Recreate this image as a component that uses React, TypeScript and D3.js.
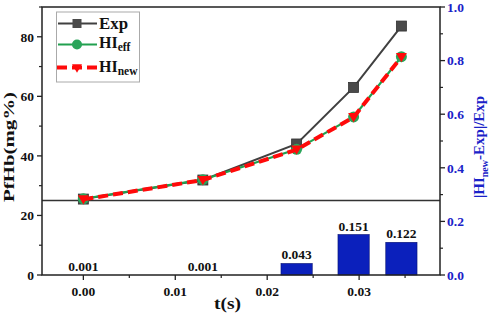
import React from "react";
import * as d3 from "d3";

const times = [0, 0.013, 0.0232, 0.0294, 0.0346];
const expValues = [25.5, 31.9, 44.0, 63.0, 83.6];
const hiEffValues = [25.6, 32.0, 42.2, 53.1, 73.3];
const hiNewValues = [25.4, 31.9, 42.1, 53.0, 73.2];
const relErrors = [0.001, 0.001, 0.043, 0.151, 0.122];
const xTicks = [0, 0.01, 0.02, 0.03];
const xMinor = [0.005, 0.015, 0.025, 0.035];
const leftTicks = [0, 20, 40, 60, 80];
const leftMinor = [10, 30, 50, 70, 90];
const rightTicks = [0, 0.2, 0.4, 0.6, 0.8, 1.0];
const rightMinor = [0.1, 0.3, 0.5, 0.7, 0.9];
const baselineValue = 25;
const barWidthT = 0.0034;

const W = 491, H = 315;
const L = 42, R = 440, T = 7, B = 275;
const FONT = "'Liberation Serif', 'Times New Roman', serif";
const BLUE = "#1a22c8";
const TICK_FS = 13.5;

export default function App() {
  const x = d3.scaleLinear().domain([-0.0045, 0.0388]).range([L, R]);
  const yL = d3.scaleLinear().domain([0, 90]).range([B, T]);
  const yR = d3.scaleLinear().domain([0, 1]).range([B, T]);

  const line = (vals: number[]) =>
    d3.line<number>().x((_, i) => x(times[i])).y((v) => yL(v))(vals) || "";

  const tri = (cx: number, cy: number, s: number) =>
    `M${cx - s},${cy - s * 0.75}L${cx + s},${cy - s * 0.75}L${cx},${cy + s * 0.95}Z`;

  return (
    <svg width={W} height={H} style={{ position: "absolute", left: 0, top: 0, background: "#fff" }} fontFamily={FONT}>
      <rect x={0} y={0} width={W} height={H} fill="#fff" />
      {/* bars */}
      {relErrors.map((v, i) => {
        const bw = x(barWidthT) - x(0);
        const y0 = yR(v);
        return (
          <g key={"b" + i}>
            {v > 0.005 && (
              <rect x={x(times[i]) - bw / 2} y={y0} width={bw} height={B - y0} fill="#0b20bc" stroke="#061070" strokeWidth={0.6} />
            )}
            <text x={x(times[i])} y={y0 - 4} textAnchor="middle" fontSize={13.5} fontWeight="bold" fill="#111">
              {v.toFixed(3)}
            </text>
          </g>
        );
      })}
      {/* baseline */}
      <line x1={L} x2={R} y1={yL(baselineValue)} y2={yL(baselineValue)} stroke="#333" strokeWidth={1.5} />
      {/* lines */}
      <path d={line(expValues)} fill="none" stroke="#404040" strokeWidth={2} />
      <path d={line(hiEffValues)} fill="none" stroke="#21a04e" strokeWidth={2.2} />
      {expValues.map((v, i) => (
        <rect key={"e" + i} x={x(times[i]) - 5} y={yL(v) - 5} width={10} height={10} fill="#4a4a4a" stroke="#333" strokeWidth={0.8} />
      ))}
      {hiEffValues.map((v, i) => (
        <circle key={"h" + i} cx={x(times[i])} cy={yL(v)} r={5.5} fill="#2aa55a" />
      ))}
      <path d={line(hiNewValues)} fill="none" stroke="#ff0a0a" strokeWidth={4} strokeDasharray="10,5" />
      {hiNewValues.map((v, i) => (
        <path key={"n" + i} d={tri(x(times[i]), yL(v), 5.5)} fill="#ff0a0a" />
      ))}
      {/* frame */}
      <rect x={L} y={T} width={R - L} height={B - T} fill="none" stroke="#222" strokeWidth={1.5} />
      {/* x axis */}
      {xTicks.map((t) => (
        <g key={"xt" + t}>
          <line x1={x(t)} x2={x(t)} y1={B} y2={B + 5} stroke="#222" strokeWidth={1.3} />
          <text x={x(t)} y={B + 21} textAnchor="middle" fontSize={TICK_FS} fontWeight="bold" fill="#111">
            {t.toFixed(2)}
          </text>
        </g>
      ))}
      {xMinor.map((t) => (
        <line key={"xm" + t} x1={x(t)} x2={x(t)} y1={B} y2={B + 3} stroke="#222" strokeWidth={1.2} />
      ))}
      <text x={227.5} y={309} textAnchor="middle" fontSize={17} fontWeight="bold" fill="#111" textLength={27} lengthAdjust="spacingAndGlyphs">t(s)</text>
      {/* left axis */}
      {leftTicks.map((t) => (
        <g key={"lt" + t}>
          <line x1={L - 5} x2={L} y1={yL(t)} y2={yL(t)} stroke="#222" strokeWidth={1.3} />
          <text x={L - 8} y={yL(t) + 4.8} textAnchor="end" fontSize={TICK_FS} fontWeight="bold" fill="#111">
            {t}
          </text>
        </g>
      ))}
      {leftMinor.map((t) => (
        <line key={"lm" + t} x1={L - 3} x2={L} y1={yL(t)} y2={yL(t)} stroke="#222" strokeWidth={1.2} />
      ))}
      <text transform={`translate(14,147) rotate(-90)`} textAnchor="middle" fontSize={15.5} fontWeight="bold" fill="#111" textLength={110} lengthAdjust="spacingAndGlyphs">
        PfHb(mg%)
      </text>
      {/* right axis */}
      {rightTicks.map((t) => (
        <g key={"rt" + t}>
          <line x1={R} x2={R + 5} y1={yR(t)} y2={yR(t)} stroke="#222" strokeWidth={1.3} />
          <text x={R + 7} y={yR(t) + 4.8} textAnchor="start" fontSize={TICK_FS} fontWeight="bold" fill={BLUE}>
            {t.toFixed(1)}
          </text>
        </g>
      ))}
      {rightMinor.map((t) => (
        <line key={"rm" + t} x1={R} x2={R + 3} y1={yR(t)} y2={yR(t)} stroke="#222" strokeWidth={1.2} />
      ))}
      <g transform={`translate(484,198) rotate(-90)`}>
        <text x={0} y={0} textAnchor="start" fontSize={15} fontWeight="bold" fill={BLUE}>
          |HI<tspan fontSize={10} dy={3.5}>new</tspan><tspan dy={-3.5}>-Exp|/Exp</tspan>
        </text>
      </g>
      {/* legend */}
      <rect x={56.5} y={12} width={83} height={70} fill="#fff" stroke="#aaa" strokeWidth={1} />
      <line x1={58} x2={97} y1={23.5} y2={23.5} stroke="#404040" strokeWidth={2} />
      <rect x={72.5} y={19} width={9} height={9} fill="#4a4a4a" />
      <text x={99} y={28.5} fontSize={17} fontWeight="bold" fill="#111" textLength={29} lengthAdjust="spacingAndGlyphs">Exp</text>
      <line x1={58} x2={97} y1={44.5} y2={44.5} stroke="#21a04e" strokeWidth={2.2} />
      <circle cx={77} cy={44.5} r={5} fill="#2aa55a" />
      <text x={99} y={48} fontSize={16} fontWeight="bold" fill="#111">
        HI<tspan fontSize={11.5} dy={3}>eff</tspan>
      </text>
      <line x1={57} x2={97} y1={67.5} y2={67.5} stroke="#ff0a0a" strokeWidth={4} strokeDasharray="10,5" />
      <path d={tri(77, 68, 5)} fill="#ff0a0a" />
      <text x={99} y={71.5} fontSize={16} fontWeight="bold" fill="#111">
        HI<tspan fontSize={11.5} dy={3}>new</tspan>
      </text>
    </svg>
  );
}
